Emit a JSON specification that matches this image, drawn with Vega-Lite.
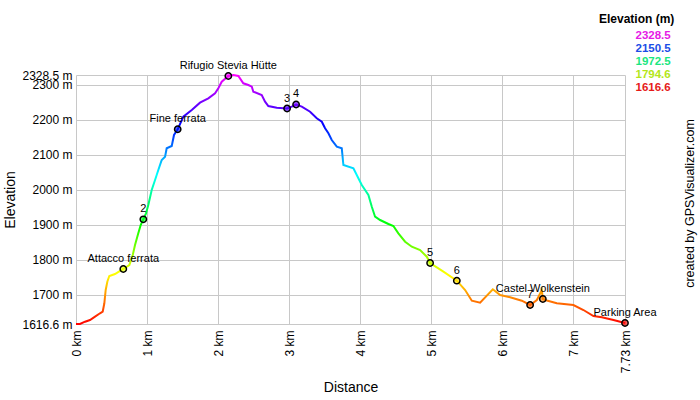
{
  "$schema": "https://vega.github.io/schema/vega-lite/v6.json",
  "width": 549,
  "height": 249,
  "autosize": {"type": "none"},
  "padding": {"left": 76, "top": 75, "right": 75, "bottom": 76},
  "background": "white",
  "config": {
    "font": "Liberation Sans",
    "view": {"stroke": null},
    "axis": {"gridColor": "#c8c8c8", "gridWidth": 1, "domain": false, "ticks": false, "tickSize": 0, "labelColor": "#000", "titleColor": "#000", "labelFontSize": 12, "titleFontSize": 14, "titleFontWeight": "normal", "labelOverlap": false}
  },
  "datasets": {
    "track": [
      {"km": 0, "ele": 1616.6}, {"km": 0.056, "ele": 1616.6}, {"km": 0.127, "ele": 1623.2}, {"km": 0.197, "ele": 1628.0},
      {"km": 0.268, "ele": 1637.5}, {"km": 0.338, "ele": 1647.2}, {"km": 0.376, "ele": 1651.8}, {"km": 0.399, "ele": 1675.8},
      {"km": 0.418, "ele": 1713.8}, {"km": 0.441, "ele": 1737.5}, {"km": 0.469, "ele": 1753.8}, {"km": 0.549, "ele": 1759.6},
      {"km": 0.666, "ele": 1773.9}, {"km": 0.751, "ele": 1785.3}, {"km": 0.799, "ele": 1813.9}, {"km": 0.831, "ele": 1842.5},
      {"km": 0.877, "ele": 1875.9}, {"km": 0.911, "ele": 1899.6}, {"km": 0.948, "ele": 1915.9}, {"km": 0.986, "ele": 1933.1},
      {"km": 1.018, "ele": 1956.8}, {"km": 1.066, "ele": 1999.7}, {"km": 1.113, "ele": 2028.3}, {"km": 1.159, "ele": 2056.9},
      {"km": 1.207, "ele": 2085.5}, {"km": 1.254, "ele": 2094.9}, {"km": 1.277, "ele": 2118.9}, {"km": 1.348, "ele": 2125.5},
      {"km": 1.380, "ele": 2157.0}, {"km": 1.432, "ele": 2173.3}, {"km": 1.511, "ele": 2209.3}, {"km": 1.630, "ele": 2228.4},
      {"km": 1.746, "ele": 2249.3}, {"km": 1.863, "ele": 2261.9}, {"km": 1.958, "ele": 2276.2}, {"km": 2.004, "ele": 2290.5},
      {"km": 2.052, "ele": 2309.3}, {"km": 2.145, "ele": 2325.6}, {"km": 2.215, "ele": 2328.5}, {"km": 2.286, "ele": 2325.6},
      {"km": 2.356, "ele": 2304.8}, {"km": 2.427, "ele": 2299.9}, {"km": 2.475, "ele": 2295.1}, {"km": 2.497, "ele": 2280.8},
      {"km": 2.615, "ele": 2271.3}, {"km": 2.662, "ele": 2252.2}, {"km": 2.708, "ele": 2239.9}, {"km": 2.827, "ele": 2235.0},
      {"km": 2.972, "ele": 2232.7}, {"km": 3.038, "ele": 2237.9}, {"km": 3.099, "ele": 2244.2}, {"km": 3.179, "ele": 2237.9},
      {"km": 3.296, "ele": 2223.6}, {"km": 3.390, "ele": 2204.7}, {"km": 3.461, "ele": 2195.0}, {"km": 3.507, "ele": 2176.1},
      {"km": 3.554, "ele": 2161.8}, {"km": 3.601, "ele": 2142.7}, {"km": 3.672, "ele": 2123.5}, {"km": 3.742, "ele": 2118.9},
      {"km": 3.765, "ele": 2071.2}, {"km": 3.906, "ele": 2061.8}, {"km": 3.976, "ele": 2033.2}, {"km": 4.024, "ele": 2014.0},
      {"km": 4.117, "ele": 1985.4}, {"km": 4.165, "ele": 1952.0}, {"km": 4.211, "ele": 1923.4}, {"km": 4.282, "ele": 1913.9},
      {"km": 4.399, "ele": 1902.5}, {"km": 4.469, "ele": 1896.8}, {"km": 4.539, "ele": 1875.9}, {"km": 4.634, "ele": 1851.9},
      {"km": 4.728, "ele": 1837.6}, {"km": 4.845, "ele": 1828.2}, {"km": 4.939, "ele": 1809.0}, {"km": 4.986, "ele": 1791.0},
      {"km": 5.173, "ele": 1766.1}, {"km": 5.362, "ele": 1740.4}, {"km": 5.479, "ele": 1713.8}, {"km": 5.573, "ele": 1683.2},
      {"km": 5.690, "ele": 1677.5}, {"km": 5.869, "ele": 1715.8}, {"km": 5.972, "ele": 1699.5}, {"km": 6.113, "ele": 1692.9},
      {"km": 6.277, "ele": 1683.2}, {"km": 6.394, "ele": 1670.9}, {"km": 6.489, "ele": 1685.2}, {"km": 6.559, "ele": 1713.8},
      {"km": 6.573, "ele": 1688.1}, {"km": 6.630, "ele": 1683.8}, {"km": 6.770, "ele": 1675.8}, {"km": 7.004, "ele": 1670.9},
      {"km": 7.145, "ele": 1656.6}, {"km": 7.286, "ele": 1639.5}, {"km": 7.404, "ele": 1635.8}, {"km": 7.568, "ele": 1628.0},
      {"km": 7.73, "ele": 1619.5}
    ],
    "waypoints": [
      {"km": 0.666, "ele": 1773.9, "name": "Attacco ferrata"},
      {"km": 0.948, "ele": 1915.9, "name": "2"},
      {"km": 1.432, "ele": 2173.3, "name": "Fine ferrata"},
      {"km": 2.145, "ele": 2325.6, "name": "Rifugio Stevia Hütte"},
      {"km": 2.972, "ele": 2232.7, "name": "3"},
      {"km": 3.099, "ele": 2244.2, "name": "4"},
      {"km": 4.986, "ele": 1791.0, "name": "5"},
      {"km": 5.362, "ele": 1740.4, "name": "6"},
      {"km": 6.394, "ele": 1670.9, "name": "7"},
      {"km": 6.573, "ele": 1688.1, "name": "Castel Wolkenstein"},
      {"km": 7.73, "ele": 1619.5, "name": "Parking Area"}
    ],
    "legendrows": [
      {"lbl": "2328.5"}, {"lbl": "2150.5"}, {"lbl": "1972.5"}, {"lbl": "1794.6"}, {"lbl": "1616.6"}
    ]
  },
  "layer": [
    {
      "encoding": {
        "x": {
          "field": "km", "type": "quantitative",
          "scale": {"domain": [0, 7.73], "nice": false, "zero": false},
          "axis": {"values": [0, 1, 2, 3, 4, 5, 6, 7, 7.73], "labelExpr": "datum.value + ' km'", "labelAngle": 270, "labelPadding": 6, "title": "Distance", "titlePadding": 8, "labelOverlap": false}
        },
        "y": {
          "field": "ele", "type": "quantitative",
          "scale": {"domain": [1616.6, 2328.5], "nice": false, "zero": false},
          "axis": {"values": [1616.6, 1700, 1800, 1900, 2000, 2100, 2200, 2300, 2328.5], "labelExpr": "datum.value + ' m'", "labelPadding": 4, "title": "Elevation", "titlePadding": 4, "labelOverlap": false}
        }
      },
      "layer": [
        {
          "data": {"name": "track"},
          "mark": {
            "type": "line",
            "strokeWidth": 2,
            "stroke": {
              "gradient": "linear", "x1": 0, "y1": 1, "x2": 0, "y2": 0,
              "stops": [
                {"offset": 0, "color": "#ff0000"},
                {"offset": 0.2, "color": "#ffff00"},
                {"offset": 0.4, "color": "#00ff00"},
                {"offset": 0.6, "color": "#00ffff"},
                {"offset": 0.8, "color": "#0000ff"},
                {"offset": 1, "color": "#ff00ff"}
              ]
            }
          },
          "encoding": {
            "order": {"field": "km", "type": "quantitative"}
          }
        },
        {
          "data": {"name": "waypoints"},
          "mark": {"type": "point", "filled": true, "size": 40, "stroke": "#000", "strokeWidth": 1.5, "fillOpacity": 0.65, "strokeOpacity": 1},
          "encoding": {
            "fill": {
              "field": "ele", "type": "quantitative",
              "scale": {"domain": [1616.6, 2328.5], "range": ["#ff0000", "#ff00ff"], "interpolate": "hsl-long"},
              "legend": null
            }
          }
        },
        {
          "data": {"name": "waypoints"},
          "mark": {"type": "text", "dy": -10, "fontSize": 11, "color": "#000", "baseline": "middle"},
          "encoding": {
            "text": {"field": "name"}
          }
        }
      ]
    },
    {
      "data": {"name": "legendrows"},
      "mark": {"type": "point", "opacity": 0},
      "encoding": {
        "y": {
          "field": "lbl", "type": "nominal",
          "axis": {"orient": "right", "labels": false, "grid": false, "title": "created by GPSVisualizer.com", "titleAngle": 270, "titleFontSize": 12.5, "titlePadding": 71, "titleY": 128}
        },
        "color": {
          "field": "lbl", "type": "nominal",
          "scale": {"domain": ["2328.5", "2150.5", "1972.5", "1794.6", "1616.6"], "range": ["#e619e6", "#1a4de6", "#1ae680", "#b3e61a", "#e61a1a"]},
          "legend": {
            "orient": "none", "legendX": 523, "legendY": -61,
            "title": "Elevation (m)", "titleFontSize": 12, "titleFontWeight": "bold", "titlePadding": 4, "titleColor": "#000",
            "labelFontSize": 11.5, "labelFontWeight": "bold", "labelOffset": 25, "symbolSize": 0, "symbolOpacity": 0, "symbolStrokeWidth": 0, "padding": 0, "rowPadding": 0,
            "labelColor": {"expr": "scale('color', datum.value)"}
          }
        }
      }
    }
  ],
  "resolve": {"scale": {"y": "independent"}}
}
